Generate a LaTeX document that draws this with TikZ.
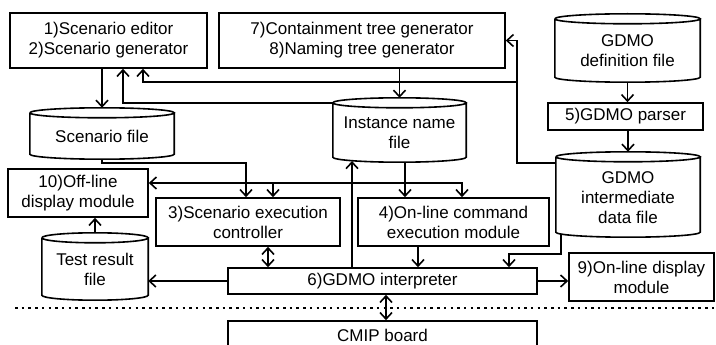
\documentclass[tikz,border=0pt]{standalone}
\usepackage{fontspec}
\setmainfont{Liberation Sans}
\usetikzlibrary{arrows.meta,calc}
\tikzset{
  ln/.style={line width=1.6pt},
  box/.style={draw, ln, inner sep=0pt, align=center, font=\fontsize{17}{20}\selectfont},
  cylbox/.style={inner sep=0pt, draw=none},
  txt/.style={inner sep=0pt, align=center, font=\fontsize{17}{20}\selectfont},
  arr/.style={ln, -{Straight Barb[length=6.5pt,width=12pt]}},
  darr/.style={ln, {Straight Barb[length=6.5pt,width=12pt]}-{Straight Barb[length=6.5pt,width=12pt]}},
  dotl/.style={line width=1.3pt, dash pattern=on 2.5pt off 4.2pt}
}
\newcommand\boxn[6]{\node[box, minimum width={(#4-#2)*1pt}, minimum height={(#5-#3)*1pt}] (#1) at ({(#2+#4)/2},{(#3+#5)/2}) {#6};}
\newcommand\cylout[1]{%
  \draw[ln] let \p1=(#1.north west), \p2=(#1.south east), \n1={(\x2-\x1)/2} in
    (\x1,\y1-5pt) -- (\x1,\y2+5pt) arc[start angle=180,end angle=360,x radius=\n1,y radius=5pt] -- (\x2,\y1-5pt)
    (\x1,\y1-5pt) arc[start angle=180,end angle=-180,x radius=\n1,y radius=5pt];}
\newcommand\cyln[6]{\node[cylbox, minimum width={(#4-#2)*1pt}, minimum height={(#5-#3)*1pt}, label={[txt,yshift=-3pt]center:{#6}}] (#1) at ({(#2+#4)/2},{(#3+#5)/2}) {};\cylout{#1}}
\begin{document}
\begin{tikzpicture}[x=1pt,y=-1pt]
\useasboundingbox (0,0) rectangle (716,345);
% boxes
\boxn{b12}{10}{13}{207}{68}{1)Scenario editor\\2)Scenario generator}
\boxn{b78}{219}{13}{505}{68}{7)Containment tree generator\\8)Naming tree generator}
\boxn{parser}{548}{103}{703}{130}{5)GDMO parser}
\boxn{offd}{8}{169}{148}{217}{10)Off-line\\display module}
\boxn{b3}{156}{198}{340}{246}{3)Scenario execution\\controller}
\boxn{b4}{358}{198}{549}{246}{4)On-line command\\execution module}
\boxn{b6}{228}{268}{537}{294}{6)GDMO interpreter}
\boxn{b9}{569}{253}{714}{301}{9)On-line display\\module}
\begin{scope}
\clip (0,0) rectangle (716,345);
\boxn{cmip}{228}{321}{537}{349}{CMIP board}
\end{scope}
% cylinders
\cyln{gdef}{555}{14}{700}{82}{GDMO\\definition file}
\cyln{gint}{556}{152}{700}{237}{GDMO\\intermediate\\data file}
\cyln{sfile}{30}{108}{174}{159}{Scenario file}
\cyln{ifile}{333}{98}{466}{162}{Instance name\\file}
\cyln{tfile}{42}{233}{148}{300}{Test result\\file}
% routing coordinates
\coordinate (x123) at (123,0);
\coordinate (x143) at (143,0);
\coordinate (r1) at (517,0);
\coordinate (j82) at (517,82);
\coordinate (x246) at (246,0);
\coordinate (x462) at (462,183);
\coordinate (x273) at (273,183);
\coordinate (x405) at (405,0);
\coordinate (x352) at (352,161);
\coordinate (x268) at (268,0);
\coordinate (x418) at (418,0);
\coordinate (p254) at (509,254);
\coordinate (x386) at (386,0);
\coordinate (dl) at (15,308);
\coordinate (dr) at (716,308);
% connectors
\draw[arr] (b12.south -| sfile.north) -- (sfile.north);
\draw[arr] ([yshift=-5pt]ifile.north west) -| (b12.south -| x123);
\draw[arr] ([yshift=-11pt]gint.north west) -| (b78.east -| r1) -- (b78.east);
\draw[arr] (j82) -| (b12.south -| x143);
\draw[arr] (b78.south -| ifile.north) -- (ifile.north);
\draw[arr] (gdef.south) -- (parser.north -| gdef.south);
\draw[arr] (parser.south -| gint.north) -- (gint.north);
\draw[arr] (sfile.south) -- ++(0,4) -| (b3.north -| x246);
\draw[darr] (b4.north -| x462) -- (x462) -- (x462 -| offd.east);
\draw[arr] (x273) -- (b3.north -| x273);
\draw[arr] (ifile.south -| x405) -- (b4.north -| x405);
\draw[arr] (b6.north -| x352) -- (x352);
\draw[darr] (b3.south -| x268) -- (b6.north -| x268);
\draw[arr] (b6.west) -- (b6.west -| tfile.east);
\draw[arr] (tfile.north) -- (tfile.north |- offd.south);
\draw[arr] (b4.south -| x418) -- (b6.north -| x418);
\draw[arr] ([xshift=5pt,yshift=3pt]gint.south west) |- (p254) -- (b6.north -| p254);
\draw[arr] (b6.east) -- (b6.east -| b9.west);
\draw[darr] (b6.south -| x386) -- (cmip.north -| x386);
\draw[dotl] (dl) -- (dr);
\end{tikzpicture}
\end{document}
